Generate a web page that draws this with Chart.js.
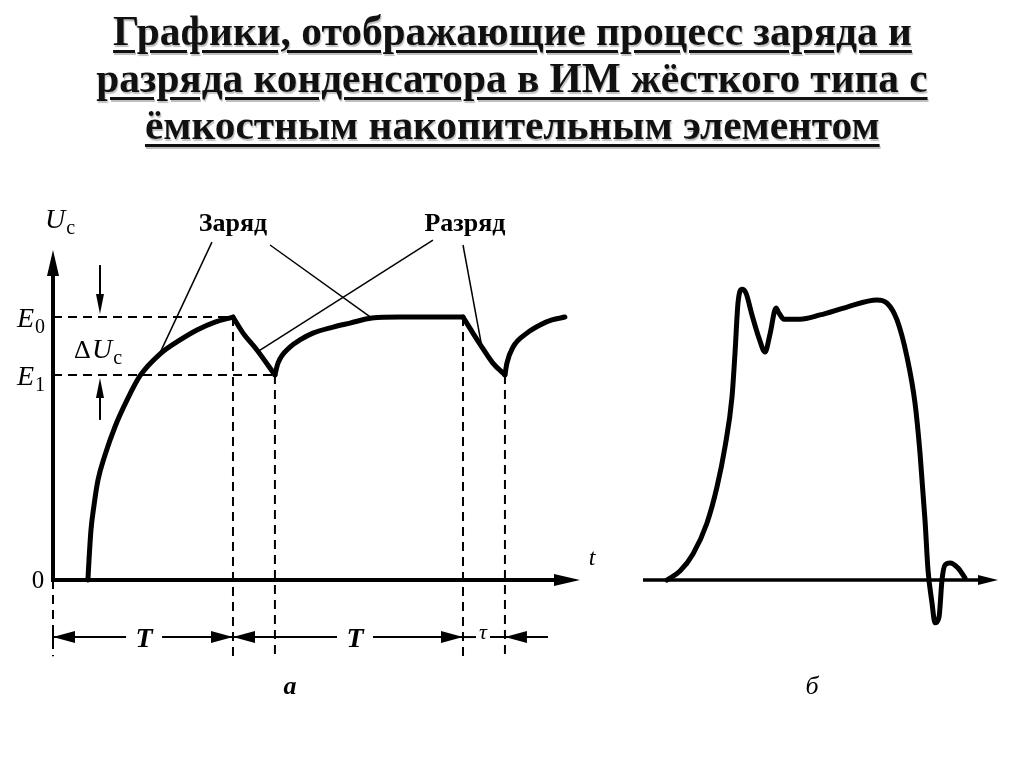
<!DOCTYPE html>
<html lang="ru">
<head>
<meta charset="UTF-8">
<title>Заряд и разряд конденсатора</title>
<script src="https://cdn.jsdelivr.net/npm/chart.js"></script>
<style>
  body {
    margin: 0;
    background: #fff;
    width: 1024px;
    height: 767px;
    overflow: hidden;
    position: relative;
    font-family: "Liberation Serif", serif;
  }
  .title {
    position: absolute;
    top: 8px;
    left: 0;
    width: 1024px;
    text-align: center;
    font-weight: bold;
    font-size: 42px;
    line-height: 47px;
    color: #111;
  }
  .title span {
    display: inline-block;
    white-space: nowrap;
    text-decoration: underline;
    text-decoration-thickness: 3px;
    text-underline-offset: 5px;
    text-shadow: 1px 2px 1px rgba(0, 0, 0, 0.25);
    transform-origin: center;
  }
  #boxA { position: absolute; left: 0; top: 180px; }
  #boxB { position: absolute; left: 620px; top: 180px; }
</style>
</head>
<body>
  <div class="title">
    <div><span data-w="799">Графики, отображающие процесс заряда и</span></div>
    <div><span data-w="831">разряда конденсатора в ИМ жёсткого типа с</span></div>
    <div><span data-w="735">ёмкостным накопительным элементом</span></div>
  </div>
  <canvas id="boxA" width="620" height="540"></canvas>
  <canvas id="boxB" width="404" height="540"></canvas>
<script>
  // ---- график а: напряжение на конденсаторе (t в долях T, U в долях E0) ----
  const charge1X = [0.194, 0.2, 0.211, 0.228, 0.25, 0.289, 0.344, 0.411, 0.483, 0.594, 0.706, 0.8, 0.9, 1.0];
  const charge1Y = [0, 0.076, 0.19, 0.285, 0.38, 0.475, 0.582, 0.684, 0.776, 0.859, 0.913, 0.951, 0.981, 1.0];
  const discharge1X = [1.0, 1.056, 1.133, 1.233];
  const discharge1Y = [1.0, 0.939, 0.875, 0.78];
  const charge2X = [1.233, 1.25, 1.317, 1.372, 1.444, 1.556, 1.65, 1.772, 1.928, 2.278];
  const charge2Y = [0.78, 0.825, 0.886, 0.913, 0.939, 0.962, 0.977, 0.996, 1.0, 1.0];
  const discharge2X = [2.278, 2.333, 2.383, 2.444, 2.511];
  const discharge2Y = [1.0, 0.939, 0.886, 0.825, 0.78];
  const charge3X = [2.511, 2.522, 2.556, 2.633, 2.706, 2.772, 2.844];
  const charge3Y = [0.78, 0.825, 0.886, 0.939, 0.97, 0.989, 1.0];

  const levelE0 = 1.0;
  const levelE1 = 0.78;
  const timeMarks = [0, 1.0, 1.233, 2.278, 2.511];

  // ---- график б: форма импульса ----
  const pulseX = [0.24, 0.37, 0.50, 0.64, 0.74, 0.82, 0.89, 0.92, 0.95, 0.99, 1.03, 1.09, 1.16, 1.22, 1.27, 1.33, 1.36, 1.41,
                  1.57, 1.77, 2.04, 2.34, 2.44, 2.54, 2.64, 2.72, 2.77, 2.82, 2.85, 2.89, 2.92, 2.96, 2.99, 3.02, 3.07, 3.15, 3.22];
  const pulseY = [0, 0.034, 0.099, 0.217, 0.354, 0.506, 0.696, 0.863, 1.053, 1.106, 1.091, 1.008, 0.92, 0.867, 0.935, 1.034, 1.015, 0.992,
                  0.992, 1.008, 1.038, 1.065, 1.053, 0.989, 0.848, 0.673, 0.483, 0.228, 0.038, -0.087, -0.163, -0.141, 0, 0.057, 0.065, 0.046, 0.008];

  const xMaxA = 2.928, xMaxB = 3.55, yMax = 1.255, dimY = -0.217, dimBottom = -0.29;

  // подгоняем ширину строк заголовка
  document.querySelectorAll('.title span').forEach(s => {
    const w = s.getBoundingClientRect().width;
    s.style.transform = `scaleX(${(+s.dataset.w / w).toFixed(3)})`;
  });

  const pts = (xs, ys) => xs.map((v, i) => ({ x: v, y: ys[i] }));

  function line(ctx, x1, y1, x2, y2) {
    ctx.beginPath(); ctx.moveTo(x1, y1); ctx.lineTo(x2, y2); ctx.stroke();
  }
  function arrow(ctx, x, y, dir, len, half) {
    ctx.beginPath();
    ctx.moveTo(x, y);
    if (dir === 'up') { ctx.lineTo(x - half, y + len); ctx.lineTo(x + half, y + len); }
    if (dir === 'down') { ctx.lineTo(x - half, y - len); ctx.lineTo(x + half, y - len); }
    if (dir === 'left') { ctx.lineTo(x + len, y - half); ctx.lineTo(x + len, y + half); }
    if (dir === 'right') { ctx.lineTo(x - len, y - half); ctx.lineTo(x - len, y + half); }
    ctx.closePath(); ctx.fill();
  }
  // буква с индексом, x - левый край, y - базовая линия
  function sym(ctx, x, y, main, sub, size) {
    ctx.font = `italic ${size}px "Liberation Serif"`;
    ctx.textAlign = 'left';
    ctx.fillText(main, x, y);
    const w = ctx.measureText(main).width;
    ctx.font = `${Math.round(size * 0.72)}px "Liberation Serif"`;
    ctx.fillText(sub, x + w + 1, y + size * 0.2);
  }

  const schemeA = {
    id: 'schemeA',
    beforeDatasetsDraw(chart) {
      const { ctx, scales: { x, y } } = chart;
      const X = v => x.getPixelForValue(v), Y = v => y.getPixelForValue(v);
      ctx.save();
      ctx.strokeStyle = '#000';
      ctx.fillStyle = '#000';
      ctx.lineWidth = 2;
      ctx.setLineDash([9, 6]);
      line(ctx, X(0), Y(levelE0), X(timeMarks[1]), Y(levelE0));
      line(ctx, X(0), Y(levelE1), X(timeMarks[2]), Y(levelE1));
      line(ctx, X(0), Y(0), X(0), Y(dimBottom));
      [1, 3].forEach(i => line(ctx, X(timeMarks[i]), Y(levelE0), X(timeMarks[i]), Y(dimBottom)));
      [2, 4].forEach(i => line(ctx, X(timeMarks[i]), Y(levelE1), X(timeMarks[i]), Y(dimBottom)));
      ctx.setLineDash([]);
      // оси
      ctx.lineWidth = 4;
      line(ctx, X(0), Y(0) + 2, X(0), Y(yMax) + 20);
      arrow(ctx, X(0), Y(yMax), 'up', 26, 6);
      line(ctx, X(0) - 2, Y(0), X(xMaxA) - 20, Y(0));
      arrow(ctx, X(xMaxA), Y(0), 'right', 26, 6);
      ctx.restore();
    },
    afterDraw(chart) {
      const { ctx, scales: { x, y } } = chart;
      const X = v => x.getPixelForValue(v), Y = v => y.getPixelForValue(v);
      ctx.save();
      ctx.fillStyle = '#000';
      ctx.strokeStyle = '#000';

      // подписи осей и уровней
      sym(ctx, X(0) - 8, Y(yMax) - 22, 'U', 'c', 28);
      sym(ctx, X(0) - 36, Y(levelE0) + 10, 'E', '0', 28);
      sym(ctx, X(0) - 36, Y(levelE1) + 10, 'E', '1', 28);
      ctx.font = '25px "Liberation Serif"';
      ctx.textAlign = 'center';
      ctx.fillText('0', X(0) - 15, Y(0) + 8);
      ctx.font = 'italic 24px "Liberation Serif"';
      ctx.fillText('t', X(xMaxA) + 12, Y(0) - 15);

      // ΔUc
      const xd = X(0.261);
      ctx.lineWidth = 2;
      line(ctx, xd, Y(levelE0) - 52, xd, Y(levelE0) - 18);
      arrow(ctx, xd, Y(levelE0) - 3, 'down', 20, 4);
      line(ctx, xd, Y(levelE1) + 45, xd, Y(levelE1) + 18);
      arrow(ctx, xd, Y(levelE1) + 3, 'up', 20, 4);
      ctx.font = '26px "Liberation Serif"';
      ctx.textAlign = 'left';
      ctx.fillText('Δ', xd - 26, Y(levelE0) + 41);
      sym(ctx, xd - 8, Y(levelE0) + 41, 'U', 'c', 28);

      // выноски
      ctx.font = 'bold 26px "Liberation Serif"';
      ctx.textAlign = 'center';
      ctx.fillText('Заряд', X(1.0), Y(yMax) - 19);
      ctx.fillText('Разряд', X(2.289), Y(yMax) - 19);
      ctx.lineWidth = 1.5;
      const leaders = [
        [0.883, 1.285, 0.594, 0.863],
        [1.206, 1.274, 1.772, 0.996],
        [2.111, 1.293, 1.133, 0.867],
        [2.278, 1.274, 2.383, 0.886]
      ];
      leaders.forEach(l => line(ctx, X(l[0]), Y(l[1]), X(l[2]), Y(l[3])));

      // размерная линия
      const yd = Y(dimY);
      ctx.lineWidth = 2;
      const dims = [[timeMarks[0], timeMarks[1], 0.506, 'T'], [timeMarks[1], timeMarks[3], 1.678, 'T']];
      ctx.font = 'italic bold 28px "Liberation Serif"';
      dims.forEach(d => {
        line(ctx, X(d[0]), yd, X(d[2]) - 18, yd);
        line(ctx, X(d[2]) + 18, yd, X(d[1]), yd);
        arrow(ctx, X(d[0]), yd, 'left', 22, 6);
        arrow(ctx, X(d[1]), yd, 'right', 22, 6);
        ctx.fillText(d[3], X(d[2]), yd + 10);
      });
      line(ctx, X(0), yd - 9, X(0), yd + 9);
      const xt = X(2.389);
      line(ctx, X(timeMarks[3]), yd, xt - 7, yd);
      line(ctx, xt + 7, yd, X(2.75), yd);
      arrow(ctx, X(timeMarks[4]), yd, 'left', 22, 6);
      ctx.font = 'italic 22px "Liberation Serif"';
      ctx.fillText('τ', xt, yd + 2);

      ctx.font = 'italic bold 26px "Liberation Serif"';
      ctx.fillText('а', 290, 514);
      ctx.restore();
    }
  };

  const schemeB = {
    id: 'schemeB',
    beforeDatasetsDraw(chart) {
      const { ctx, scales: { x, y } } = chart;
      const X = v => x.getPixelForValue(v), Y = v => y.getPixelForValue(v);
      ctx.save();
      ctx.lineWidth = 3.5;
      ctx.strokeStyle = '#000';
      ctx.fillStyle = '#000';
      line(ctx, X(0), Y(0), X(xMaxB) - 16, Y(0));
      arrow(ctx, X(xMaxB), Y(0), 'right', 20, 5);
      ctx.restore();
    },
    afterDraw(chart) {
      const ctx = chart.ctx;
      ctx.save();
      ctx.fillStyle = '#000';
      ctx.font = 'italic 26px "Liberation Serif"';
      ctx.textAlign = 'center';
      ctx.fillText('б', 192, 514);
      ctx.restore();
    }
  };

  const curve = data => ({
    data: data,
    borderColor: '#000',
    borderWidth: 5,
    borderCapStyle: 'round',
    borderJoinStyle: 'round',
    pointRadius: 0,
    cubicInterpolationMode: 'monotone',
    fill: false,
    clip: false
  });

  const baseOptions = (xMax, pad) => ({
    responsive: false,
    devicePixelRatio: 1,
    animation: false,
    events: [],
    layout: { padding: pad },
    scales: {
      x: { type: 'linear', min: 0, max: xMax, display: false },
      y: { type: 'linear', min: 0, max: yMax, display: false }
    },
    plugins: { legend: { display: false }, tooltip: { enabled: false } }
  });

  new Chart(document.getElementById('boxA'), {
    type: 'line',
    data: {
      datasets: [
        curve(pts(charge1X, charge1Y)),
        curve(pts(discharge1X, discharge1Y)),
        curve(pts(charge2X, charge2Y)),
        curve(pts(discharge2X, discharge2Y)),
        curve(pts(charge3X, charge3Y))
      ]
    },
    options: baseOptions(xMaxA, { left: 53, right: 40, top: 70, bottom: 140 }),
    plugins: [schemeA]
  });

  new Chart(document.getElementById('boxB'), {
    type: 'line',
    data: { datasets: [curve(pts(pulseX, pulseY))] },
    options: baseOptions(xMaxB, { left: 23, right: 26, top: 70, bottom: 140 }),
    plugins: [schemeB]
  });
</script>
</body>
</html>
